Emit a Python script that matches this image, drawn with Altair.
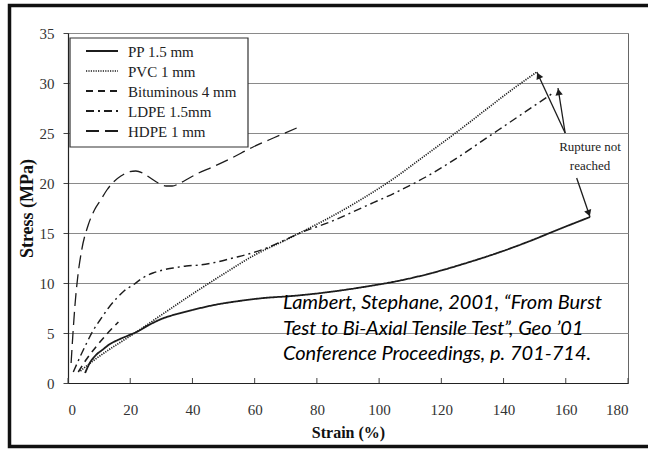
import math
import altair as alt
import pandas as pd

# Stress-strain curves of geomembranes (bi-axial tensile test)
series_names = ["PP 1.5 mm", "PVC 1 mm", "Bituminous 4 mm", "LDPE 1.5mm", "HDPE 1 mm"]

pp_strain = [5.5, 7, 9, 11, 13.5, 16, 19, 22, 26, 30, 35, 40, 47, 55, 63, 72, 84, 95, 106, 117, 127, 138, 148.5, 158, 167.8]
pp_stress = [1.0, 2.0, 2.8, 3.3, 3.9, 4.3, 4.7, 5.1, 5.8, 6.4, 6.9, 7.3, 7.8, 8.2, 8.5, 8.7, 9.1, 9.6, 10.2, 11.0, 11.9, 13.0, 14.2, 15.4, 16.6]

pvc_strain = [4, 8, 13, 18, 22, 30, 40, 50, 60, 70, 77, 85, 95, 104, 115, 125, 135, 143, 150.7]
pvc_stress = [1.2, 2.2, 3.3, 4.3, 5.1, 6.8, 8.9, 10.9, 12.8, 14.3, 15.4, 16.7, 18.5, 20.3, 22.8, 25.1, 27.5, 29.4, 31.1]

bit_strain = [3.3, 6, 9.2, 12.5, 16.2]
bit_stress = [1.1, 2.4, 3.7, 4.9, 6.1]

ldpe_strain = [1.7, 4, 6, 8, 10.3, 13, 15.7, 18, 20.9, 24, 27.3, 30.5, 33.8, 38, 42.4, 48, 53, 58, 63.9, 69, 74.6, 84.2, 95, 105, 115, 125, 135, 145, 155.9]
ldpe_stress = [1.1, 2.7, 4.0, 5.2, 6.3, 7.5, 8.5, 9.2, 9.8, 10.5, 11.0, 11.3, 11.5, 11.7, 11.8, 12.1, 12.5, 12.9, 13.5, 14.2, 15.0, 16.1, 17.6, 19.0, 20.6, 22.5, 24.6, 26.7, 29.0]

hdpe_strain = [1.0, 1.6, 2.3, 3.2, 4.4, 6.5, 8.5, 10.5, 12.5, 14.6, 17.0, 19.5, 21.8, 24.0, 26.5, 29.0, 31.5, 33.5, 36.0, 39.0, 42.0, 46.5, 52.0, 59.5, 66.0, 73.5]
hdpe_stress = [2.0, 5.0, 8.0, 10.8, 13.3, 15.8, 17.3, 18.3, 19.3, 20.1, 20.7, 21.1, 21.2, 21.0, 20.5, 20.0, 19.7, 19.7, 20.0, 20.5, 21.0, 21.6, 22.4, 23.6, 24.5, 25.5]

# "Rupture not reached" arrows: start (strain, stress) -> end (strain, stress)
arrow_x0 = [159.8, 159.8, 163.5]
arrow_y0 = [25.0, 25.0, 20.5]
arrow_x1 = [150.7, 157.5, 167.8]
arrow_y1 = [31.1, 29.5, 16.6]

note_lines = ["Rupture not", "reached"]
note_x = [167.8, 167.8]
note_y = [23.2, 21.3]

citation_lines = [
    "Lambert, Stephane, 2001, \u201cFrom Burst",
    "Test to Bi-Axial Tensile Test\u201d, Geo \u201901",
    "Conference Proceedings, p. 701-714.",
]
citation_x = [69.1, 69.1, 69.1]
citation_y = [7.4, 4.8, 2.3]

x_ticks = list(range(0, 181, 20))
y_ticks = list(range(0, 36, 5))

# line styles per series
series_dashes = [[1, 0], [1.2, 1.2], [7, 5], [8, 4, 2, 4], [13, 6]]
series_widths = [1.8, 1.3, 2.0, 1.8, 2.0]

W, H = 560, 350
X_MAX, Y_MAX = 180, 35

rows = []
for name, xs, ys in zip(
    series_names,
    [pp_strain, pvc_strain, bit_strain, ldpe_strain, hdpe_strain],
    [pp_stress, pvc_stress, bit_stress, ldpe_stress, hdpe_stress],
):
    for i, (sx, sy) in enumerate(zip(xs, ys)):
        rows.append({"series": name, "strain": sx, "stress": sy, "idx": i})
curves = pd.DataFrame(rows)

x_scale = alt.Scale(domain=[0, X_MAX], nice=False, zero=False)
y_scale = alt.Scale(domain=[0, Y_MAX], nice=False)

ink = "#1c1c1c"
serif = "Liberation Serif"
one = pd.DataFrame({"k": [0]})

# outer frame around the whole figure
frame = alt.Chart(one).mark_rect(
    fill=None, stroke="#111", strokeWidth=3.5
).encode(
    x=alt.value(-58.5), x2=alt.value(600), y=alt.value(-27.5), y2=alt.value(413.5)
)

# legend box with one sample line and label per series
legend_layers = [
    alt.Chart(one).mark_rect(fill="white", stroke="#333", strokeWidth=1.2).encode(
        x=alt.value(2), x2=alt.value(180), y=alt.value(5), y2=alt.value(114)
    )
]
for i, name in enumerate(series_names):
    row_y = 18 + 20 * i
    legend_layers.append(
        alt.Chart(one).mark_rule(
            color=ink, strokeWidth=series_widths[i], strokeDash=series_dashes[i]
        ).encode(x=alt.value(18), x2=alt.value(50), y=alt.value(row_y))
    )
    legend_layers.append(
        alt.Chart(one).mark_text(
            font=serif, fontSize=15, color="#222", align="left", baseline="middle"
        ).encode(x=alt.value(60), y=alt.value(row_y + 1), text=alt.value(name))
    )

lines = alt.Chart(curves).mark_line(color=ink, interpolate="monotone").encode(
    x=alt.X(
        "strain:Q",
        scale=x_scale,
        axis=alt.Axis(
            title="Strain (%)",
            values=x_ticks,
            ticks=False,
            labelPadding=19,
            titlePadding=7,
            grid=False,
        ),
    ),
    y=alt.Y(
        "stress:Q",
        scale=y_scale,
        axis=alt.Axis(
            title="Stress (MPa)",
            values=y_ticks,
            tickSize=5,
            labelPadding=9,
            titlePadding=3,
            grid=True,
        ),
    ),
    strokeDash=alt.StrokeDash(
        "series:N",
        scale=alt.Scale(domain=series_names, range=series_dashes),
        legend=None,
    ),
    strokeWidth=alt.StrokeWidth(
        "series:N",
        scale=alt.Scale(domain=series_names, range=series_widths),
        legend=None,
    ),
    order="idx:Q",
)

# inward tick marks on the strain axis
tick_df = pd.DataFrame({"strain": x_ticks})
xticks = alt.Chart(tick_df).mark_rule(color="#444", strokeWidth=1).encode(
    x=alt.X("strain:Q", scale=x_scale), y=alt.value(H), y2=alt.value(H - 5)
)

arrows_df = pd.DataFrame(
    {"x0": arrow_x0, "y0": arrow_y0, "x1": arrow_x1, "y1": arrow_y1}
)
arrow_lines = alt.Chart(arrows_df).mark_rule(color=ink, strokeWidth=1.3).encode(
    x=alt.X("x0:Q", scale=x_scale),
    y=alt.Y("y0:Q", scale=y_scale),
    x2="x1:Q",
    y2="y1:Q",
)

# arrowheads pointing along each arrow's direction
px_x = W / X_MAX
px_y = H / Y_MAX
heads = []
for x0, y0, x1, y1 in zip(arrow_x0, arrow_y0, arrow_x1, arrow_y1):
    dx = (x1 - x0) * px_x
    dy = -(y1 - y0) * px_y
    length = math.hypot(dx, dy)
    ang = math.degrees(math.atan2(dx, -dy)) % 360
    back = 4.0
    heads.append({
        "hx": x1 - (dx / length) * back / px_x,
        "hy": y1 + (dy / length) * back / px_y,
        "ang": ang,
    })
heads_df = pd.DataFrame(heads)
arrow_heads = alt.Chart(heads_df).mark_point(
    shape="triangle-up", filled=True, color=ink, opacity=1, size=55
).encode(
    x=alt.X("hx:Q", scale=x_scale),
    y=alt.Y("hy:Q", scale=y_scale),
    angle=alt.Angle("ang:Q", scale=None),
)

note_df = pd.DataFrame({"text": note_lines, "x": note_x, "y": note_y})
notes = alt.Chart(note_df).mark_text(
    font=serif, fontSize=13, color="#222", align="center", baseline="alphabetic"
).encode(
    x=alt.X("x:Q", scale=x_scale), y=alt.Y("y:Q", scale=y_scale), text="text:N"
)

cite_df = pd.DataFrame({"text": citation_lines, "x": citation_x, "y": citation_y})
citation = alt.Chart(cite_df).mark_text(
    font="Lato", fontStyle="italic", fontSize=20, color="#000",
    align="left", baseline="alphabetic"
).encode(
    x=alt.X("x:Q", scale=x_scale), y=alt.Y("y:Q", scale=y_scale), text="text:N"
)

chart = alt.layer(
    frame, lines, *legend_layers, xticks, arrow_lines, arrow_heads, notes, citation
).properties(
    width=W,
    height=H,
    autosize=alt.AutoSizeParams(type="none"),
    padding={"left": 68, "top": 33, "right": 20, "bottom": 66},
    background="white",
).configure_view(
    stroke="#666", strokeWidth=1
).configure_axis(
    labelFont=serif,
    labelFontSize=15,
    labelColor="#333",
    titleFont=serif,
    titleFontWeight="bold",
    titleColor="#111",
    domainColor="#222",
    domainWidth=1.2,
    tickColor="#444",
    gridColor="#8a8a8a",
    gridWidth=1,
).configure_axisX(
    titleFontSize=16
).configure_axisY(
    titleFontSize=18
)

chart.save("out.html", embed_options={"renderer": "svg", "actions": False})
